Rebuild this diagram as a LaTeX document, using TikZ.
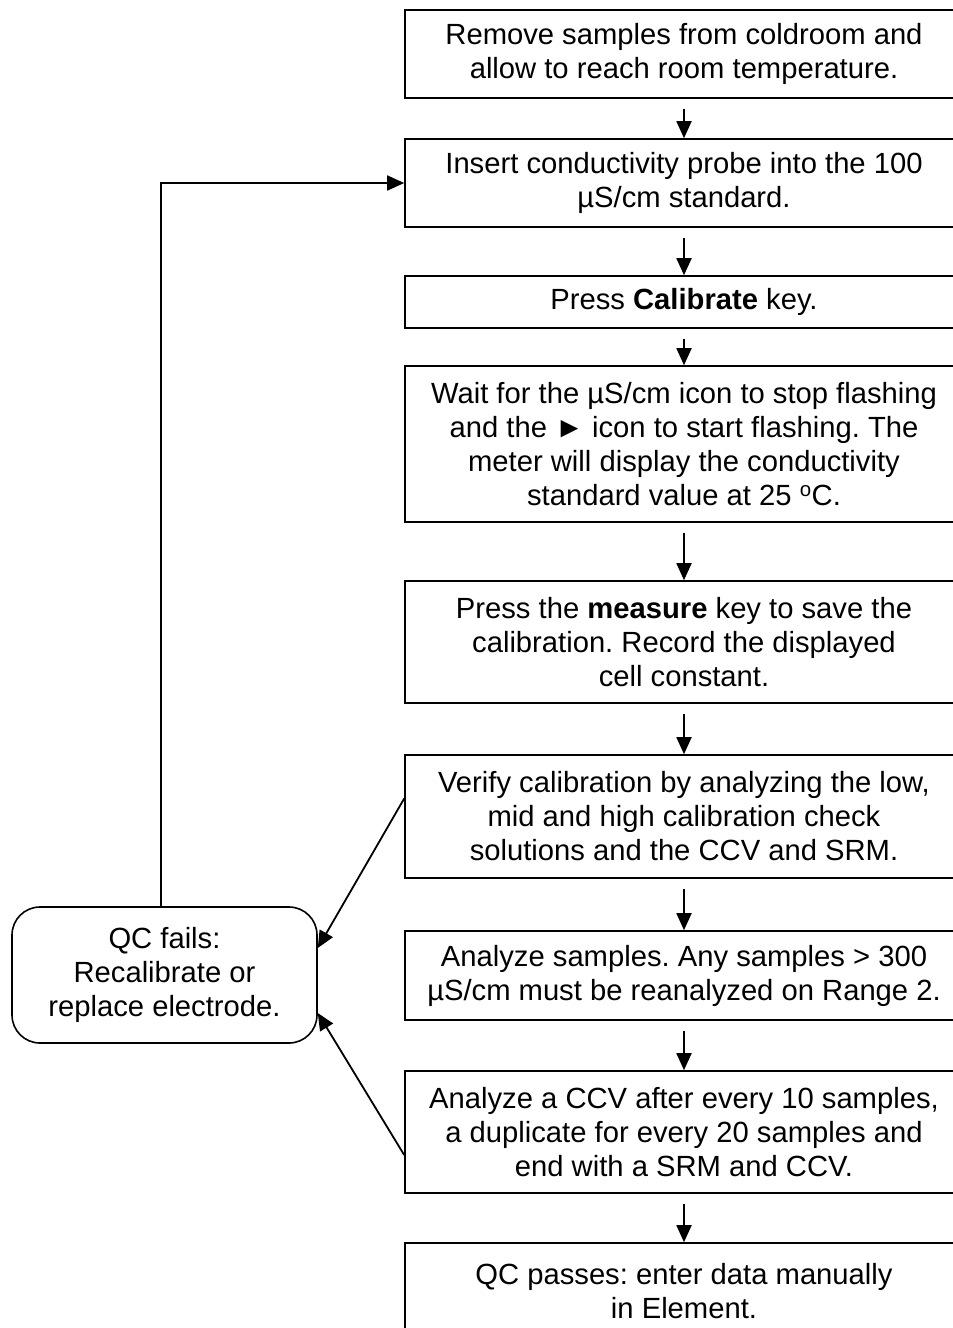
\documentclass[tikz,border=0pt]{standalone}
\usepackage{fontspec}
\setmainfont{Liberation Sans}
\usepackage{tikz}
\usetikzlibrary{arrows.meta}
\frenchspacing

\begin{document}
\begin{tikzpicture}[x=1pt, y=-1pt,
    stepbox/.style={draw, line width=1.6pt, minimum width=558pt, inner sep=2pt, align=center, font=\fontsize{29.2}{34}\selectfont},
    failbox/.style={draw, line width=1.6pt, rounded corners=28pt, minimum width=305pt, minimum height=136pt, inner sep=2pt, align=center, font=\fontsize{29.2}{34}\selectfont},
    flow/.style={line width=1.8pt, -{Triangle[length=17pt, width=15pt]}}]
    \useasboundingbox (0,0) rectangle (953,1328);

    % Draw the steps of the procedure
    \node[stepbox, minimum height=88pt] (Remove) at (684,54) {Remove samples from coldroom and\\allow to reach room temperature.};
    \node[stepbox, minimum height=88pt] (Insert) at (684,183) {Insert conductivity probe into the 100\\µS/cm standard.};
    \node[stepbox, minimum height=52pt] (Calibrate) at (684,302) {Press \textbf{Calibrate} key.};
    \node[stepbox, minimum height=156pt] (Wait) at (684,444) {Wait for the µS/cm icon to stop flashing\\and the ► icon to start flashing. The\\meter will display the conductivity\\standard value at 25 \textsuperscript{o}C.};
    \node[stepbox, minimum height=122pt] (Measure) at (684,642) {Press the \textbf{measure} key to save the\\calibration. Record the displayed\\cell constant.};
    \node[stepbox, minimum height=123pt] (Verify) at (684,816.5) {Verify calibration by analyzing the low,\\mid and high calibration check\\solutions and the CCV and SRM.};
    \node[stepbox, minimum height=89pt] (Analyze) at (684,975.5) {Analyze samples. Any samples > 300\\µS/cm must be reanalyzed on Range 2.};
    \node[stepbox, minimum height=122pt] (Check) at (684,1132) {Analyze a CCV after every 10 samples,\\a duplicate for every 20 samples and\\end with a SRM and CCV.};
    \node[stepbox, minimum height=96pt] (Passes) at (684,1291) {QC passes: enter data manually\\in Element.};

    % The failure box on the left
    \node[failbox] (Fails) at (164.5,975) {QC fails:\\Recalibrate or\\replace electrode.};

    % Connect the steps from top to bottom
    \foreach \a/\b in {Remove/Insert, Insert/Calibrate, Calibrate/Wait, Wait/Measure, Measure/Verify, Verify/Analyze, Analyze/Check, Check/Passes}
        \draw[flow, shorten <=10pt] (\a.south) -- (\b.north);

    % Optional: QC checks that fail
    \coordinate (V1) at ([yshift=18pt]Verify.west);
    \coordinate (F1) at ([yshift=27pt]Fails.east);
    \coordinate (C1) at ([yshift=-23pt]Check.west);
    \coordinate (F2) at ([yshift=-38pt]Fails.east);
    \draw[flow] (V1) -- (F1);
    \draw[flow] (C1) -- (F2);

    % Back to the calibration standard
    \draw[flow] ([xshift=-3.5pt]Fails.north) |- (Insert.west);

\end{tikzpicture}
\end{document}
